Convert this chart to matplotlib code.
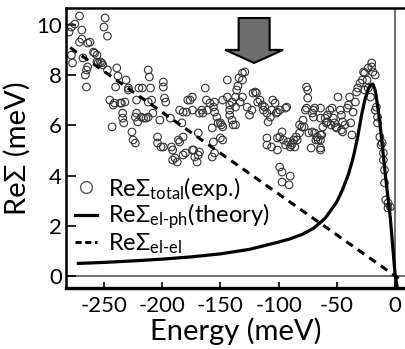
import matplotlib
matplotlib.use("Agg")
import matplotlib.pyplot as plt
from matplotlib.lines import Line2D
from matplotlib.patches import FancyArrow

plt.rcParams['font.family'] = ['Lato', 'DejaVu Sans']
plt.rcParams['mathtext.fontset'] = 'custom'
plt.rcParams['mathtext.rm'] = 'Lato'
plt.rcParams['mathtext.it'] = 'Lato:italic'
plt.rcParams['axes.unicode_minus'] = False

# --- measured total self-energy (open circles) ---
energy_exp = [
    -280, -278, -275, -271, -269, -278, -277, -269, -271, -268, -264, -262, -259, -258, -256,
    -265, -266, -265, -264, -256, -255, -253, -252, -251, -249, -250, -247, -247, -245, -243,
    -241, -239, -238, -240, -236, -234, -234, -232, -231, -229, -229, -226, -225, -223, -223,
    -222, -222, -220, -217, -214, -212, -211, -210, -242, -235, -233, -218, -216, -212, -212,
    -221,
    -209, -208, -204, -201, -199, -199, -199, -198, -197, -193, -192, -189, -187, -186, -185,
    -183, -182, -180, -179, -178, -176, -174, -174, -174, -173, -172, -170, -169, -168, -166,
    -165, -163, -162, -161, -202, -204, -191, -191, -182, -185, -182, -169, -168, -159, -157,
    -156, -155, -153, -152, -149, -150, -148, -156, -155, -157, -148, -142, -142, -140, -155,
    -148, -150, -144, -144, -142, -139, -140, -137,
    -136, -135, -134, -131, -131, -129, -133, -131, -127, -125, -123, -122, -120, -119, -118,
    -116, -114, -113, -112, -110, -109, -107, -106, -105, -103, -101, -99, -94, -93, -110,
    -110, -106, -101, -99, -96, -94, -92, -90, -88, -86, -84, -82, -80, -79, -77,
    -76, -75, -75, -71, -70, -69, -69, -67, -66, -64, -137, -137, -102, -101, -97,
    -89, -87, -85, -82, -78, -76, -74, -71, -70, -68, -72, -99, -97, -90, -97,
    -91,
    -63, -62, -60, -58, -58, -56, -54, -53, -52, -50, -49, -47, -46, -45, -43,
    -41, -40, -39, -37, -36, -34, -33, -32, -30, -28, -27, -26, -24, -23, -21,
    -20, -19, -17, -15, -15, -13, -11, -10, -9, -64, -64, -59, -55, -51, -46,
    -45, -38, -64, -64, -64, -16, -12, -10, -9, -8, -4, -6, -6, -20, -23,
    -17, -26,
]
resigma_exp = [
    9.72, 9.92, 10.04, 10.36, 9.80, 8.80, 8.49, 9.44, 9.32, 8.69, 9.28, 9.32, 8.92, 8.88, 8.80,
    7.53, 8.01, 8.21, 8.33, 8.53, 8.49, 8.53, 8.49, 8.41, 10.28, 9.92, 9.56, 8.21, 7.01, 5.94,
    6.89, 8.29, 7.97, 7.53, 6.89, 6.49, 6.29, 6.93, 7.81, 7.49, 7.41, 5.74, 5.42, 5.30, 6.33,
    7.01, 6.49, 7.49, 7.49, 6.29, 8.21, 7.93, 7.49, 6.81, 6.89, 6.10, 6.33, 6.29, 6.33, 6.93,
    6.14,
    7.01, 6.49, 5.54, 5.14, 5.14, 7.73, 7.53, 7.09, 6.93, 6.29, 5.14, 4.70, 4.54, 5.42, 6.61,
    6.10, 5.54, 4.90, 6.53, 7.01, 7.01, 7.13, 6.61, 5.02, 5.02, 4.74, 4.54, 4.82, 4.94, 6.61,
    6.49, 7.49, 7.01, 6.61, 6.21, 5.30, 5.02, 4.62, 4.82, 5.34, 6.53, 5.70, 6.49, 6.89, 5.90,
    6.73, 6.53, 6.33, 6.10, 6.02, 5.50, 5.42, 5.34, 4.90, 4.74, 7.01, 6.61, 6.41, 6.21, 6.93,
    5.94, 6.10, 7.13, 7.81, 6.81, 6.02, 6.93, 7.13,
    7.41, 7.57, 7.89, 7.81, 8.09, 8.13, 6.93, 7.13, 6.73, 6.41, 6.61, 7.29, 7.33, 7.29, 6.93,
    7.01, 6.81, 6.61, 6.73, 6.49, 6.14, 6.33, 6.61, 7.01, 6.89, 6.53, 6.61, 6.69, 6.73, 5.50,
    5.22, 5.14, 5.02, 5.54, 5.42, 5.22, 5.34, 5.14, 5.30, 5.14, 5.42, 5.70, 5.94, 6.21, 6.61,
    7.53, 7.41, 7.09, 6.49, 6.33, 6.69, 5.70, 5.54, 5.42, 5.10, 6.73, 6.02, 6.49, 5.50, 5.74,
    5.22, 5.42, 5.54, 6.02, 5.94, 6.69, 5.70, 5.74, 6.61, 5.42, 5.10, 4.34, 4.14, 3.98, 3.74,
    3.63,
    5.62, 5.94, 6.29, 6.14, 6.41, 6.61, 6.69, 6.29, 6.10, 5.90, 7.13, 6.61, 6.41, 6.14, 6.02,
    6.69, 6.81, 7.13, 5.62, 6.53, 6.93, 7.33, 7.49, 7.69, 7.81, 8.13, 8.09, 7.81, 7.49, 7.13,
    8.33, 8.13, 6.61, 6.33, 6.10, 5.54, 5.30, 4.90, 4.22, 6.69, 6.29, 6.10, 6.02, 5.94, 5.82,
    5.74, 6.10, 5.62, 5.42, 5.02, 6.73, 5.22, 4.62, 3.71, 3.03, 2.75, 2.71, 2.91, 8.49, 8.29,
    8.01, 7.41,
]

# --- electron-phonon contribution (theory) ---
energy_elph = [-272, -250, -225, -200, -175, -150, -125, -100, -90, -80, -70, -60, -50,
               -45, -40, -36, -32, -29, -26, -23, -21, -19, -17, -15, -13, -10, -8, -6,
               -4, -2, 0, 2]
resigma_elph = [0.50, 0.54, 0.60, 0.67, 0.76, 0.88, 1.06, 1.35, 1.48, 1.65, 1.90, 2.30, 2.95,
                3.45, 4.05, 4.70, 5.55, 6.35, 7.00, 7.45, 7.62, 7.65, 7.40, 6.80, 6.10, 4.80,
                3.90, 3.10, 2.30, 1.20, 0.10, -0.50]

# --- electron-electron contribution (linear) ---
energy_elel = [-279, 7]
resigma_elel = [9.10, -0.22]

# tick labels
xticks = [-250, -200, -150, -100, -50, 0]
yticks = [0, 2, 4, 6, 8, 10]


def plot_self_energy(output_filename="out.png"):
    fig = plt.figure(figsize=(4.06, 3.49), dpi=100)
    ax = fig.add_axes([0.1626, 0.1748, 0.8374, 0.8023])

    # zero reference lines
    ax.axhline(0, color='#555555', lw=1.2, zorder=1)
    ax.axvline(0, color='#555555', lw=1.2, zorder=1)

    ax.scatter(energy_exp, resigma_exp, s=30, facecolors='none',
               edgecolors='#333333', linewidths=0.8, zorder=2)
    ax.plot(energy_elph, resigma_elph, color='black', lw=2.3, zorder=3)
    ax.plot(energy_elel, resigma_elel, color='black', lw=2.2,
            linestyle=(0, (2.6, 2.0)), zorder=3)

    # block arrow marking the energy window
    arrow = FancyArrow(-121, 10.28, 0, -1.79, width=26.6, head_width=49.8,
                       head_length=0.52, length_includes_head=True,
                       facecolor='#6e6e6e', edgecolor='black', lw=1.5, zorder=4)
    ax.add_patch(arrow)

    ax.set_xlim(-282.6, 9.45)
    ax.set_ylim(-0.48, 10.68)
    ax.set_xticks(xticks)
    ax.set_yticks(yticks)
    ax.tick_params(axis='both', direction='in', labelsize=16, width=1.2)
    ax.tick_params(axis='y', length=7, pad=3)
    ax.tick_params(axis='x', length=4, pad=6)

    ax.spines['right'].set_visible(False)
    ax.spines['left'].set_linewidth(1.8)
    ax.spines['top'].set_linewidth(1.8)
    ax.spines['bottom'].set_linewidth(2.4)

    ax.set_xlabel('Energy (meV)', fontsize=21, labelpad=1)
    ax.set_ylabel('ReΣ (meV)', fontsize=21, labelpad=4)

    handles = [
        Line2D([], [], marker='o', ls='none', mfc='none', mec='#555555', ms=8.5, mew=1.0),
        Line2D([], [], color='black', lw=2.3),
        Line2D([], [], color='black', lw=2.2, linestyle=(0, (2.0, 1.2))),
    ]
    labels = [r'Re$\Sigma_{\mathrm{total}}$(exp.)',
              r'Re$\Sigma_{\mathrm{el\text{-}ph}}$(theory)',
              r'Re$\Sigma_{\mathrm{el\text{-}el}}$']
    ax.legend(handles, labels, loc='upper left', bbox_to_anchor=(0.025, 0.405),
              frameon=False, fontsize=17, handlelength=0.95, handletextpad=0.45,
              labelspacing=0.0, borderpad=0, borderaxespad=0)

    fig.savefig(output_filename, dpi=100)


if __name__ == "__main__":
    plot_self_energy()
